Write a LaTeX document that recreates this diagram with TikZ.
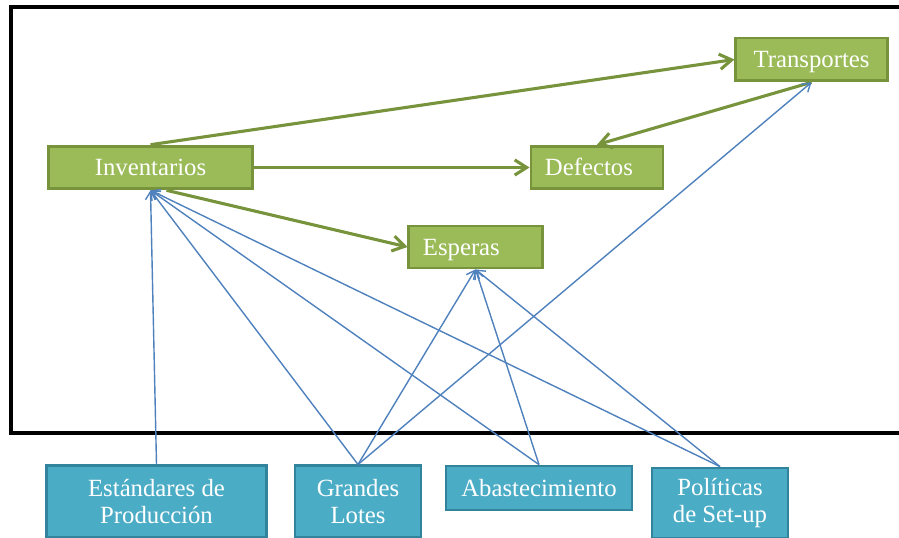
\documentclass[tikz,border=0pt]{standalone}
\usepackage{fontspec}
\setmainfont{Liberation Serif}
\usetikzlibrary{arrows.meta}

\definecolor{verde}{HTML}{9BBB59}
\definecolor{verdeosc}{HTML}{77933C}
\definecolor{celeste}{HTML}{4BACC6}
\definecolor{celesteosc}{HTML}{31849B}
\definecolor{linea}{HTML}{4F81BD}

\begin{document}
\begin{tikzpicture}[x=0.025cm,y=-0.025cm,
  efecto/.style={draw=verdeosc, fill=verde, line width=2pt, text=white, inner sep=0pt,
    minimum height=1.07cm, text height=11.6pt, text depth=0pt, font=\fontsize{17.6}{20}\selectfont},
  causa/.style={draw=celesteosc, fill=celeste, line width=2pt, text=white, inner sep=0pt,
    align=center, font=\fontsize{17.6}{19.5}\selectfont},
  flecha/.style={verdeosc, line width=2.2pt, -{Straight Barb[length=0.3cm,width=0.38cm,line width=2.2pt]}},
  azul/.style={linea, line width=1pt, -{Straight Barb[length=0.2cm,width=0.26cm]}}]

  \clip (0,0) rectangle (899,538);

  %marco
  \draw[line width=2.5pt] (11,7) rectangle (920,433);

  %efectos
  \node[efecto, minimum width=5.1cm] (inv) at (150.5,167.5) {Inventarios};
  \node[efecto, minimum width=3.78cm] (trans) at (811.5,59.5) {Transportes};
  \node[efecto, minimum width=3.3cm, text width=2.6cm, align=left] (def) at (597,167.5) {Defectos};
  \node[efecto, minimum width=3.33cm, minimum height=1.05cm, text width=2.63cm, align=left] (esp) at (475.5,247) {Esperas};

  %causas
  \node[causa, minimum width=5.48cm, minimum height=1.78cm] (est) at (156.5,501.5) {Estándares de\\Producción};
  \node[causa, minimum width=3.15cm, minimum height=1.78cm] (gra) at (358,501.5) {Grandes\\Lotes};
  \node[causa, minimum width=4.65cm, minimum height=1.1cm] (aba) at (539,488) {Abastecimiento};
  \node[causa, minimum width=3.4cm, minimum height=1.75cm] (pol) at (720,503) {Políticas\\de Set-up};

  %relaciones
  \draw[flecha] (inv.north) -- (trans.west);
  \draw[flecha] (inv.east) -- (def.west);
  \draw[flecha] ([xshift=0.4cm]inv.south) -- (esp.west);
  \draw[flecha] (trans.south) -- (def.north);

  \foreach \a/\b in {est/inv, gra/inv, gra/esp, gra/trans, aba/inv, aba/esp, pol/inv, pol/esp}{
    \draw[azul] (\a.north) -- (\b.south);
  }

\end{tikzpicture}
\end{document}
